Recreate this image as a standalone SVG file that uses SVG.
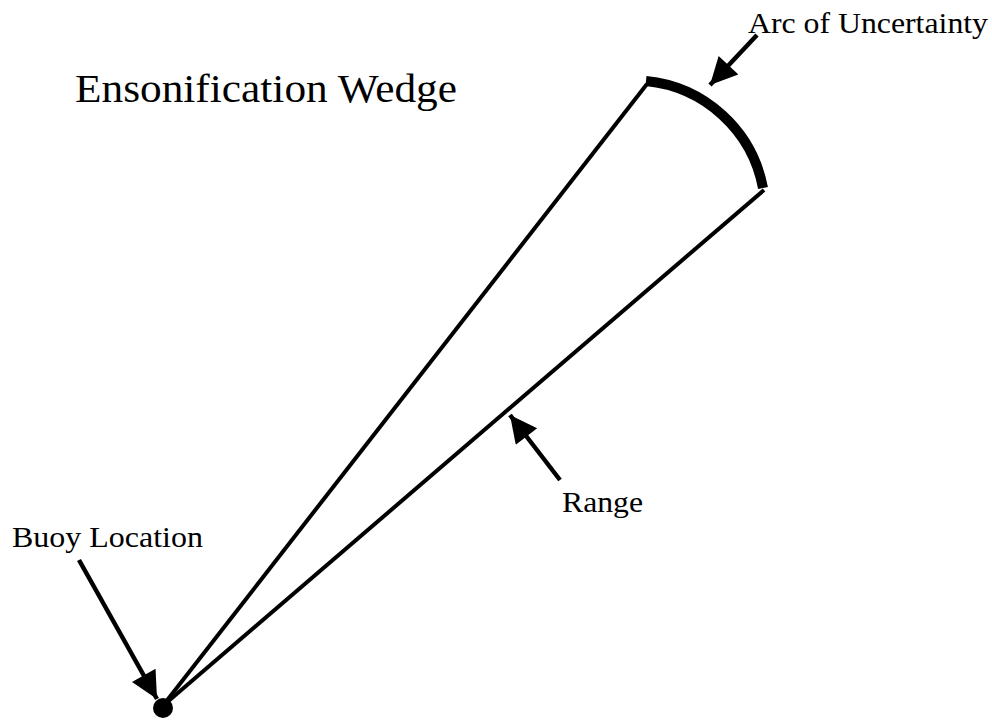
<svg xmlns="http://www.w3.org/2000/svg" width="992" height="722" viewBox="0 0 992 722">
<style>
.t{font-family:"Liberation Serif","Times New Roman",serif;fill:#000}
.ln{stroke:#000;stroke-width:4;fill:none}
.ar{stroke:#000;stroke-width:4.5;fill:none}
</style>
<defs>
<marker id="ah" viewBox="0 0 10 10" refX="10" refY="5" markerWidth="8" markerHeight="6" markerUnits="strokeWidth" orient="auto">
<path d="M0,0 L10,5 L0,10 z" fill="#000"/>
</marker>
</defs>
<rect width="992" height="722" fill="#fff"/>
<g id="title"><text class="t" x="75" y="102" font-size="41" textLength="382" lengthAdjust="spacingAndGlyphs">Ensonification Wedge</text></g>
<g id="wedge">
<line class="ln" x1="165" y1="703" x2="647" y2="84"/>
<line class="ln" x1="165" y1="704" x2="764" y2="190"/>
</g>
<g id="arc"><path d="M646,81 A132,132 0 0 1 763,188" stroke="#000" stroke-width="10" fill="none"/></g>
<g id="buoy"><circle cx="163" cy="708" r="10" fill="#000"/></g>
<g id="labels">
<text class="t" x="748" y="33" font-size="30" textLength="240" lengthAdjust="spacingAndGlyphs">Arc of Uncertainty</text>
<text class="t" x="12" y="547" font-size="29" textLength="191" lengthAdjust="spacingAndGlyphs">Buoy Location</text>
<text class="t" x="562" y="512" font-size="30" textLength="81" lengthAdjust="spacingAndGlyphs">Range</text>
</g>
<g id="connectors">
<line class="ar" x1="757" y1="35" x2="710" y2="85" marker-end="url(#ah)"/>
<line class="ar" x1="79" y1="560" x2="157" y2="699" marker-end="url(#ah)"/>
<line class="ar" x1="560" y1="480" x2="510" y2="415" marker-end="url(#ah)"/>
</g>
</svg>
